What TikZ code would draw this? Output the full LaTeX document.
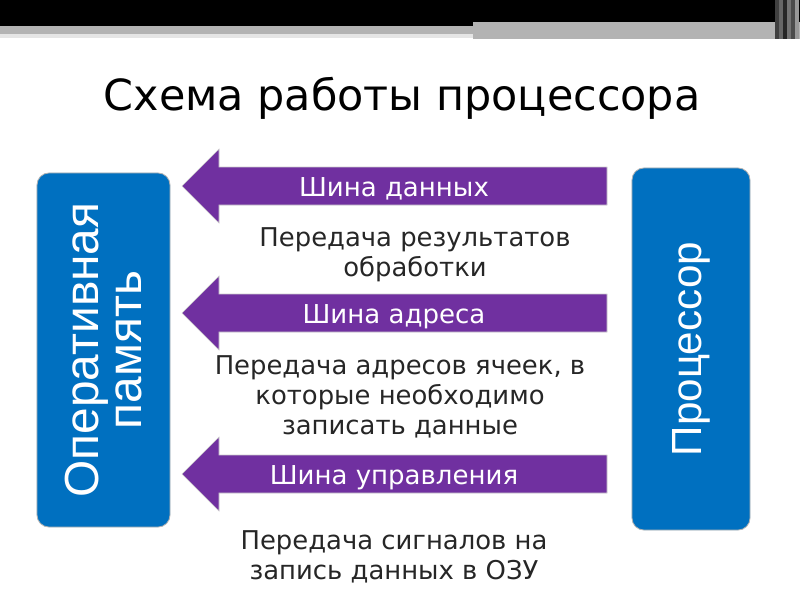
\documentclass[tikz,border=0pt]{standalone}
\usepackage{fontspec}
\setmainfont{DejaVu Sans}
\newfontfamily\arialfont{Liberation Sans}
\usepackage{xcolor}
\usepackage{tikz}
\usetikzlibrary{positioning}
\definecolor{boxblue}{RGB}{0,112,192}
\definecolor{buspurple}{RGB}{112,48,160}
\definecolor{bandgray}{RGB}{179,179,179}

\begin{document}
\begin{tikzpicture}[x=0.025cm, y=-0.025cm, every node/.style={inner sep=0pt},
    unitbox/.style={draw=gray!60, line width=0.6pt, fill=boxblue, rounded corners=0.3cm, rotate=90,
        text=white, align=center},
    buslabel/.style={text=white, anchor=base, font=\fontsize{18.5}{20}\selectfont},
    notetext/.style={text=black!85, align=center, font=\fontsize{18.4}{21.3}\selectfont}]
    \useasboundingbox (0,0) rectangle (800,600);
    % top bar
    \fill[black] (0,0) rectangle (473,26);
    \fill[black] (473,0) rectangle (800,22);
    \fill[bandgray] (0,26) rectangle (473,34);
    \fill[bandgray] (473,22) rectangle (800,39);
    \fill[gray!20] (0,34) rectangle (473,38);
    \foreach \x/\g in {775/75,779/60,783/85,787/55,791/70,795/40} {
        \fill[black!\g] (\x,0) rectangle ++(4,39);
    }
    \node (title) at (402,98) {\fontsize{30.5}{32}\selectfont Схема работы процессора};
    % units
    \node[unitbox, minimum width=8.85cm, minimum height=3.325cm,
        font=\arialfont\fontsize{34}{31}\selectfont] (ram) at (103.5,350) {Оперативная\\память};
    \node[unitbox, minimum width=9.05cm, minimum height=2.95cm,
        font=\arialfont\fontsize{30}{31}\selectfont] (cpu) at (691,349) {Процессор};
    % buses
    \foreach \i/\c/\t in {1/186/Шина данных, 2/313/Шина адреса, 3/474/Шина управления} {
        \fill[buspurple, draw=gray!40] (182,\c) -- (219,\c-37) -- (219,\c-19) -- (607,\c-19)
            -- (607,\c+19) -- (219,\c+19) -- (219,\c+37) -- cycle;
        \node[buslabel] (bus\i) at (394,\c+10) {\t};
    }
    \node[notetext] (note1) at (415,255) {Передача результатов\\обработки};
    \node[notetext] (note2) at (400,397) {Передача адресов ячеек, в\\которые необходимо\\записать данные};
    \node[notetext] (note3) at (394,557) {Передача сигналов на\\запись данных в ОЗУ};
\end{tikzpicture}
\end{document}
